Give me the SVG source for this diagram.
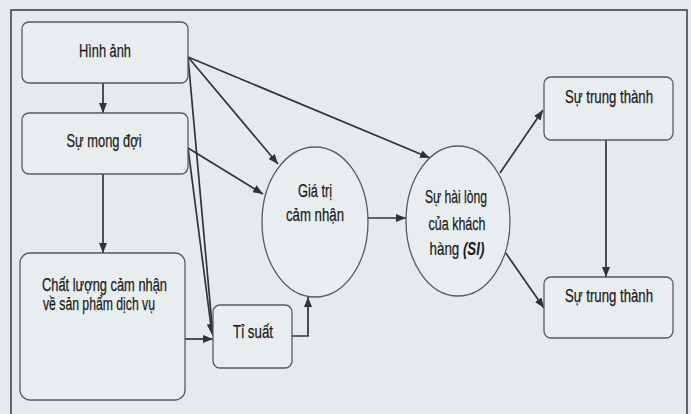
<svg xmlns="http://www.w3.org/2000/svg" width="691" height="414" viewBox="0 0 691 414">
<defs>
<style>
.bg{fill:#e5ebed}
.frame{fill:none;stroke:#3a3a3a;stroke-width:1.5}
.box{fill:#e8eef0;stroke:#5a5a5a;stroke-width:1.3}
.ell{fill:#e8eef0;stroke:#5a5a5a;stroke-width:1.3}
.t{font-family:"Liberation Sans Narrow","Liberation Sans",Arial,sans-serif;font-size:18px;fill:#1a1a1a;stroke:#1a1a1a;stroke-width:0.25;text-anchor:middle}
.ts{text-anchor:start}
.it{font-style:italic;font-weight:bold;stroke-width:0}
.con{fill:none;stroke:#333;stroke-width:1.7;marker-end:url(#ah)}
</style>
<marker id="ah" viewBox="0 0 10 8" refX="10" refY="4" markerWidth="10" markerHeight="8" markerUnits="userSpaceOnUse" orient="auto">
<path d="M0,0 L10,4 L0,8 z" fill="#333"/>
</marker>
</defs>
<rect class="bg" x="0" y="0" width="691" height="414"/>
<rect class="frame" x="11" y="10" width="676" height="420"/>

<g id="connectors">
<path class="con" d="M103,83 L103,113"/>
<path class="con" d="M103,174 L103,253"/>
<path class="con" d="M185,339 L213,339"/>
<path class="con" d="M188,57 L213,336"/>
<path class="con" d="M188,148 L212,334"/>
<path class="con" d="M188,57 L278,164"/>
<path class="con" d="M188,148 L263,194"/>
<path class="con" d="M188,57 L430,158"/>
<path class="con" d="M292,336 L308,336 L308,297"/>
<path class="con" d="M368,218 L406,218"/>
<path class="con" d="M500,173 L543,110"/>
<path class="con" d="M505,252 L544,308"/>
<path class="con" d="M606,140 L606,277"/>
</g>

<g id="hinh-anh">
<rect class="box" x="22" y="22" width="166" height="61" rx="7"/>
<text class="t" x="105" y="57" textLength="52" lengthAdjust="spacingAndGlyphs">Hình ảnh</text>
</g>
<g id="su-mong-doi">
<rect class="box" x="22" y="113" width="166" height="61" rx="7"/>
<text class="t" x="104" y="147" textLength="75" lengthAdjust="spacingAndGlyphs">Sự mong đợi</text>
</g>
<g id="chat-luong">
<rect class="box" x="20" y="253" width="165" height="147" rx="10"/>
<text class="t ts" x="42" y="291" textLength="125" lengthAdjust="spacingAndGlyphs">Chất lượng cảm nhận</text>
<text class="t ts" x="43" y="310" textLength="112" lengthAdjust="spacingAndGlyphs">về sản phẩm dịch vụ</text>
</g>
<g id="ti-suat">
<rect class="box" x="213" y="305" width="79" height="63" rx="7"/>
<text class="t" x="253" y="338" textLength="40" lengthAdjust="spacingAndGlyphs">Tỉ suất</text>
</g>
<g id="gia-tri">
<ellipse class="ell" cx="315" cy="222" rx="53" ry="75"/>
<text class="t" x="315" y="197" textLength="34" lengthAdjust="spacingAndGlyphs">Giá trị</text>
<text class="t" x="315" y="221" textLength="58" lengthAdjust="spacingAndGlyphs">cảm nhận</text>
</g>
<g id="su-hai-long">
<ellipse class="ell" cx="458" cy="221" rx="52" ry="75"/>
<text class="t" x="456" y="203" textLength="62" lengthAdjust="spacingAndGlyphs">Sự hài lòng</text>
<text class="t" x="457" y="230" textLength="57" lengthAdjust="spacingAndGlyphs">của khách</text>
<text class="t" x="457" y="255" font-size="16" transform="translate(457 0) scale(0.74 1) translate(-457 0)">hàng <tspan class="it">(SI)</tspan></text>
</g>
<g id="su-trung-thanh-1">
<rect class="box" x="544" y="77" width="129" height="63" rx="7"/>
<text class="t" x="609" y="103" textLength="88" lengthAdjust="spacingAndGlyphs">Sự trung thành</text>
</g>
<g id="su-trung-thanh-2">
<rect class="box" x="544" y="277" width="129" height="61" rx="7"/>
<text class="t" x="609" y="302" textLength="88" lengthAdjust="spacingAndGlyphs">Sự trung thành</text>
</g>
</svg>
